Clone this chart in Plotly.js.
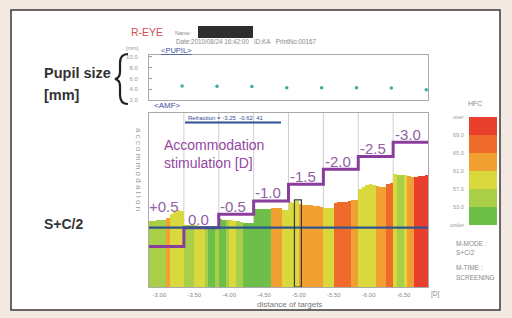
<!DOCTYPE html>
<html><head><meta charset="utf-8">
<script src="https://cdn.plot.ly/plotly-3.0.1.min.js"></script>
<style>html,body{margin:0;padding:0;background:#f4e8e3;}#chart{width:512px;height:318px;}</style>
</head><body><div id="chart"></div>
<script>
// ---------- data ----------
const targetLabels = ['-3.00','-3.50','-4.00','-4.50','-5.00','-5.50','-6.00','-6.50'];
const stimLabels = ['+0.5','0.0','-0.5','-1.0','-1.5','-2.0','-2.5','-3.0'];
const stimLevel = [-0.63, 0, 0.45, 0.89, 1.45, 1.95, 2.37, 2.85];
const accommodation = [
0.22,0.22,0.24,0.26,0.27,0.32,0.46,0.52,0.59,0.56,
0.09,0.09,0.11,0.09,0.07,0.07,0.06,0.06,0.06,0.06,
0.29,0.27,0.26,0.24,0.22,0.21,0.19,0.17,0.16,0.14,
0.61,0.61,0.62,0.62,0.61,0.64,0.66,0.64,0.59,0.59,
0.86,0.82,0.89,0.79,0.77,0.76,0.74,0.72,0.72,0.69,
0.66,0.64,0.64,0.82,0.84,0.86,0.87,0.89,0.91,0.92,
1.29,1.37,1.42,1.44,1.42,1.39,1.36,1.37,1.46,1.49,
1.79,1.77,1.76,1.74,1.72,1.69,1.69,1.71,1.72,1.74];
const hfc = [
55,55,54,55,56,63,60,59,59,60,
55,56,55,59,60,59,55,51,52,55,
52,51,55,59,58,55,54,52,51,52,
51,52,51,52,51,63,64,63,59,60,
59,60,60,63,64,63,64,63,64,62,
59,60,59,67,68,67,68,67,64,63,
59,60,59,60,59,63,64,63,67,68,
59,55,56,59,63,64,71,72,71,72];
const pupilIdx = [9,19,29,39,49,59,69,79];
const pupilSize = [4.6,4.55,4.5,4.3,4.3,4.3,4.25,3.9];
const refractionLine = 0;
const cursorIdx = 42;
const hfcLabels = ['over','69.0','65.0','61.0','57.0','53.0','under'];
const hfcThresholds = [69,65,61,57,53];

// ---------- styling ----------
const W = 512, H = 318;
const FONT = 'Liberation Sans, Arial, sans-serif';
const bandColors = ['#e8402c','#ee6b2c','#f3a032','#d9d83c','#a8cf47','#6dbf4a'];
function hfcColor(v){ for(let i=0;i<hfcThresholds.length;i++){ if(v>=hfcThresholds[i]) return bandColors[i]; } return bandColors[5]; }
const px = x => x / W, py = y => 1 - y / H;
const YMIN = -1.977, YMAX = 3.823;
const nSeg = stimLevel.length, perSeg = accommodation.length / nSeg;

const barX = accommodation.map((_, i) => i);
const traces = [];
traces.push({type:'bar', x: barX, y: accommodation.map(v => v - YMIN), base: YMIN,
  marker:{color: hfc.map(hfcColor), line:{width:0}}, xaxis:'x', yaxis:'y', hoverinfo:'skip'});
// stimulus step line
const stepX = [], stepY = [];
stimLevel.forEach((v, k) => { stepX.push(k*perSeg - 0.5); stepY.push(v); });
stepX.push(accommodation.length - 0.5); stepY.push(stimLevel[nSeg-1]);
traces.push({type:'scatter', mode:'lines', x: stepX, y: stepY, line:{shape:'hv', color:'#8a3d9c', width:3},
  xaxis:'x', yaxis:'y', hoverinfo:'skip'});
// refraction line
traces.push({type:'scatter', mode:'lines', x:[-0.5, accommodation.length-0.5], y:[refractionLine, refractionLine],
  line:{color:'#2f5690', width:2.2}, xaxis:'x', yaxis:'y', hoverinfo:'skip'});
// pupil
traces.push({type:'scatter', mode:'markers', x: pupilIdx, y: pupilSize, marker:{color:'#3fa9a3', size:3.5},
  xaxis:'x2', yaxis:'y2', cliponaxis:false, hoverinfo:'skip'});

const shapes = [];
// white panel
shapes.push({type:'rect', xref:'paper', yref:'paper', x0:px(11), x1:px(500), y0:py(310), y1:py(10),
  fillcolor:'#ffffff', line:{color:'#3a3a3a', width:1.5}, layer:'below'});
// segment grid lines
for (let k=1;k<nSeg;k++) shapes.push({type:'line', xref:'x', yref:'y domain', x0:k*perSeg-0.5, x1:k*perSeg-0.5, y0:0, y1:1,
  line:{color:'#cfcfcf', width:1}, layer:'below'});
// cursor rect
shapes.push({type:'rect', xref:'x', yref:'y', x0:cursorIdx-0.8, x1:cursorIdx+1.2, y0:YMIN, y1:accommodation[cursorIdx]+0.04,
  line:{color:'#3a3a3a', width:1.2}, fillcolor:'rgba(0,0,0,0)'});
// HFC legend bands
const lgTop = 117, lgBand = 18;
bandColors.forEach((c, i) => shapes.push({type:'rect', xref:'paper', yref:'paper', x0:px(469), x1:px(497),
  y0:py(lgTop+(i+1)*lgBand), y1:py(lgTop+i*lgBand), fillcolor:c, line:{width:0}}));
// refraction underline
shapes.push({type:'line', xref:'paper', yref:'paper', x0:px(185), x1:px(281), y0:py(122.5), y1:py(122.5), line:{color:'#2f4f8f', width:2}});
// name block
shapes.push({type:'rect', xref:'paper', yref:'paper', x0:px(198), x1:px(253), y0:py(38), y1:py(26), fillcolor:'#2e2e2e', line:{width:0}});
// brace
const bp = [[128,54],[120,54],[120,63],[120,72],[120,78],[115,79],[120,80],[120,86],[120,95],[120,104],[128,104]];
const P = p => px(p[0]).toFixed(4)+','+py(p[1]).toFixed(4);
shapes.push({type:'path', xref:'paper', yref:'paper', line:{color:'#222', width:2.2},
  path:'M'+P(bp[0])+' Q'+P(bp[1])+' '+P(bp[2])+' L'+P(bp[3])+' Q'+P(bp[4])+' '+P(bp[5])+' Q'+P(bp[6])+' '+P(bp[7])+' L'+P(bp[8])+' Q'+P(bp[9])+' '+P(bp[10])});

const ann = [];
function T(text, x, y, size, color, opts){ ann.push(Object.assign({text:text, xref:'paper', yref:'paper', x:px(x), y:py(y),
  showarrow:false, xanchor:'left', yanchor:'middle', font:{family:FONT, size:size, color:color}}, opts||{})); }
T('R-EYE', 129, 32, 10.5, '#d25252');
T('Name:', 173, 33, 5.5, '#888');
T('Date:2010/08/24 16:42:00&nbsp;&nbsp;&nbsp;ID:KA&nbsp;&nbsp;&nbsp;PrintNo:00167', 174, 42, 6.3, '#888');
T('[mm]', 124, 48, 5.5, '#999');
T('<u>&lt;PUPIL&gt;</u>', 159, 50.5, 7.5, '#3d4fa0');
T('&lt;AMF&gt;', 152, 106, 8, '#3d4fa0');
T('Refraction = -3.25  -0.62  41', 186, 118.5, 6, '#2f4f8f');
T('<b>Pupil size</b>', 42, 73, 14.5, '#333');
T('<b>[mm]</b>', 42, 95, 14.5, '#333');
T('<b>S+C/2</b>', 42, 224, 14, '#333');
T('Accommodation', 162, 145, 14, '#93479f');
T('stimulation [D]', 162, 163, 14, '#93479f');
T('a c c o m m o d a t i o n', 139, 169, 8, '#9a9a9a', {xanchor:'center', textangle:90});
T('distance of targets', 289, 304, 8, '#777', {xanchor:'center'});
T('[D]', 429, 294, 6.5, '#888');
T('HFC', 466, 104, 7, '#888');
hfcLabels.forEach((l, i) => T(l, 466, lgTop + i*lgBand, 5.5, '#999', {xanchor:'right'}));
T('M-MODE :', 454, 243, 6.5, '#888');
T('S+C/2', 454, 252, 6.5, '#888');
T('M-TIME :', 454, 267, 6.5, '#888');
T('SCREENING', 454, 277, 6.5, '#888');
stimLabels.forEach((l, k) => ann.push({text:l, xref:'x', yref:'y', x:k*perSeg+3.7, y:stimLevel[k], yshift: k===0 ? 40 : 8,
  showarrow:false, xanchor:'center', yanchor:'middle', font:{family:FONT, size:15, color:'#9160a3'}}));

const xDom = [px(149), px(428)];
const layout = {
  width: W, height: H, margin:{l:0,r:0,t:0,b:0}, showlegend:false,
  paper_bgcolor:'#f4e8e3', plot_bgcolor:'rgba(0,0,0,0)', bargap:0,
  xaxis:{domain:xDom, anchor:'y', range:[-0.5, accommodation.length-0.5], tickvals: targetLabels.map((_, k) => k*perSeg+2.5),
    ticktext: targetLabels, tickfont:{family:FONT, size:6, color:'#888'}, ticks:'outside', ticklen:2, tickcolor:'rgba(0,0,0,0)',
    showgrid:false, zeroline:false, showline:true, mirror:true, linecolor:'#aaa', linewidth:1},
  yaxis:{domain:[py(287), py(113)], anchor:'x', range:[YMIN, YMAX], showticklabels:false, ticks:'', showgrid:false, zeroline:false,
    showline:true, mirror:true, linecolor:'#aaa', linewidth:1},
  xaxis2:{domain:xDom, anchor:'y2', range:[-0.5, accommodation.length-0.5], showticklabels:false, ticks:'', showgrid:false,
    zeroline:false, showline:true, mirror:true, linecolor:'#aaa', linewidth:1},
  yaxis2:{domain:[py(100), py(55)], anchor:'x2', range:[2, 10.37], tickvals:[2,4,6,8,10], ticktext:['2.0','4.0','6.0','8.0','10.0'],
    tickfont:{family:FONT, size:6, color:'#999'}, ticks:'inside', ticklen:3, tickcolor:'#999', ticklabelstandoff:9,
    showgrid:false, zeroline:false, showline:true, mirror:true, linecolor:'#aaa', linewidth:1},
  shapes: shapes, annotations: ann
};
Plotly.newPlot('chart', traces, layout, {staticPlot:true, displayModeBar:false});
</script></body></html>
